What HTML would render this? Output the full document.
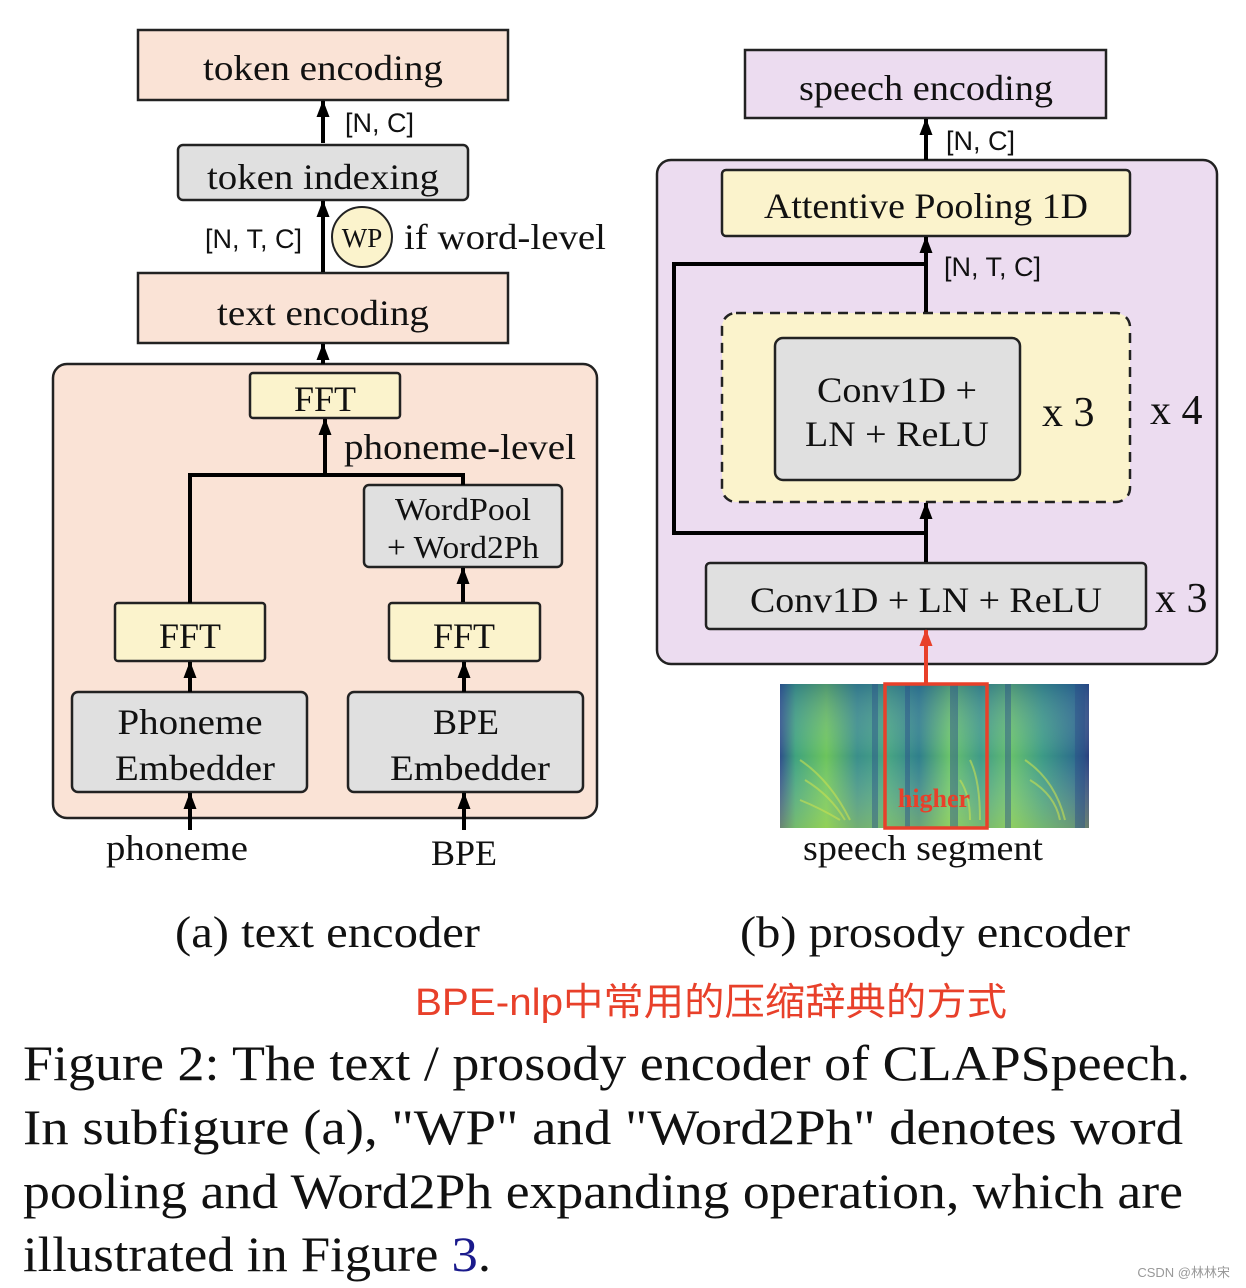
<!DOCTYPE html>
<html><head><meta charset="utf-8"><style>
html,body{margin:0;padding:0;background:#fff;}
svg{display:block;}
.s{font-family:"Liberation Serif",serif;fill:#111;}
.n{font-family:"Liberation Sans",sans-serif;fill:#111;}
</style></head><body>
<svg width="1246" height="1288" viewBox="0 0 1246 1288" xmlns="http://www.w3.org/2000/svg">
<defs>
<marker id="a" markerWidth="17" markerHeight="13" refX="16" refY="6.5" orient="auto" markerUnits="userSpaceOnUse" viewBox="0 0 17 13"><path d="M0,0 L17,6.5 L0,13 z" fill="#000"/></marker>
<marker id="r" markerWidth="17" markerHeight="13" refX="16" refY="6.5" orient="auto" markerUnits="userSpaceOnUse" viewBox="0 0 17 13"><path d="M0,0 L17,6.5 L0,13 z" fill="#e8402a"/></marker>
<linearGradient id="sp" x1="0" x2="1" y1="0" y2="0">
<stop offset="0" stop-color="#2e4f8a"/><stop offset="0.05" stop-color="#3fa37e"/><stop offset="0.15" stop-color="#6cc45c"/><stop offset="0.25" stop-color="#3a8f8a"/><stop offset="0.35" stop-color="#48a582"/><stop offset="0.45" stop-color="#2f7f8c"/><stop offset="0.55" stop-color="#6ac46a"/><stop offset="0.65" stop-color="#3f9a88"/><stop offset="0.75" stop-color="#66c06c"/><stop offset="0.85" stop-color="#3c9a86"/><stop offset="0.95" stop-color="#2d6f8c"/><stop offset="1" stop-color="#2b3f7e"/>
</linearGradient>
<linearGradient id="sv" x1="0" x2="0" y1="0" y2="1">
<stop offset="0" stop-color="#1f4f8a" stop-opacity="0.4"/><stop offset="0.5" stop-color="#fff" stop-opacity="0"/><stop offset="1" stop-color="#d8e84a" stop-opacity="0.35"/>
</linearGradient>
</defs>
<g stroke="#222" stroke-width="2.5">
<rect x="138" y="30" width="370" height="70" fill="#fae3d6"/>
<rect x="178" y="145" width="290" height="55" rx="5" fill="#e0e0e0"/>
<rect x="138" y="273" width="370" height="70" fill="#fae3d6"/>
<rect x="53" y="364" width="544" height="454" rx="14" fill="#fae3d6"/>
<rect x="250" y="373" width="150" height="45" rx="3" fill="#fbf3cc"/>
<rect x="364" y="485" width="198" height="82" rx="5" fill="#e0e0e0"/>
<rect x="115" y="603" width="150" height="58" rx="3" fill="#fbf3cc"/>
<rect x="389" y="603" width="151" height="58" rx="3" fill="#fbf3cc"/>
<rect x="72" y="692" width="235" height="100" rx="6" fill="#e0e0e0"/>
<rect x="348" y="692" width="235" height="100" rx="6" fill="#e0e0e0"/>
<circle cx="362" cy="237" r="30" fill="#fbf3cc" stroke-width="2"/>
<rect x="745" y="50" width="361" height="68" fill="#ecdcf0"/>
<rect x="657" y="160" width="560" height="504" rx="14" fill="#ecdcf0"/>
<rect x="722" y="170" width="408" height="66" rx="4" fill="#fbf3cc"/>
<rect x="722" y="313" width="408" height="189" rx="14" fill="#fbf3cc" stroke-dasharray="10,7"/>
<rect x="775" y="338" width="245" height="142" rx="8" fill="#e0e0e0"/>
<rect x="706" y="563" width="440" height="66" rx="4" fill="#e0e0e0"/>
</g>
<g stroke="#000" stroke-width="4" fill="none">
<line x1="323" y1="143" x2="323" y2="101" marker-end="url(#a)"/>
<line x1="323" y1="272" x2="323" y2="201" marker-end="url(#a)"/>
<line x1="323" y1="364" x2="323" y2="344" marker-end="url(#a)"/>
<line x1="325" y1="475" x2="325" y2="419" marker-end="url(#a)"/>
<polyline points="190,603 190,475 463,475 463,485"/>
<line x1="463" y1="602" x2="463" y2="568" marker-end="url(#a)"/>
<line x1="190" y1="692" x2="190" y2="662" marker-end="url(#a)"/>
<line x1="464" y1="692" x2="464" y2="662" marker-end="url(#a)"/>
<line x1="190" y1="830" x2="190" y2="793" marker-end="url(#a)"/>
<line x1="464" y1="830" x2="464" y2="793" marker-end="url(#a)"/>
<line x1="926" y1="160" x2="926" y2="119" marker-end="url(#a)"/>
<line x1="926" y1="312" x2="926" y2="237" marker-end="url(#a)"/>
<polyline points="926,533 674,533 674,264 926,264"/>
<line x1="926" y1="562" x2="926" y2="503" marker-end="url(#a)"/>
</g>
<line x1="926" y1="684" x2="926" y2="630" stroke="#e8402a" stroke-width="4" marker-end="url(#r)"/>
<rect x="780" y="684" width="309" height="144" fill="url(#sp)"/>
<rect x="780" y="684" width="309" height="144" fill="url(#sv)"/>
<g stroke="#c8e050" stroke-width="2" opacity="0.6" fill="none">
<path d="M800,760 q30,20 50,60 M805,780 q25,15 40,40 M800,800 q20,8 40,20"/>
<path d="M1025,760 q30,20 40,60 M1030,780 q25,15 30,40"/>
<path d="M970,760 q10,20 10,60 M960,780 q10,15 10,40"/>
</g>
<g fill="#2a4f8a" opacity="0.45">
<rect x="872" y="684" width="6" height="144"/><rect x="905" y="684" width="5" height="144"/><rect x="950" y="684" width="8" height="144"/><rect x="1005" y="684" width="6" height="144"/><rect x="1075" y="684" width="10" height="144"/>
</g>
<rect x="885" y="684" width="102" height="144" fill="none" stroke="#e8402a" stroke-width="3.5"/>
<text x="934" y="807" text-anchor="middle" font-family="Liberation Serif,serif" font-weight="bold" font-size="26" fill="#e8402a">higher</text>
<g class="s" font-size="36" text-anchor="middle">
<text x="323" y="80" textLength="240" lengthAdjust="spacingAndGlyphs">token encoding</text>
<text x="323" y="189" textLength="232" lengthAdjust="spacingAndGlyphs">token indexing</text>
<text x="323" y="325" textLength="212" lengthAdjust="spacingAndGlyphs">text encoding</text>
<text x="325" y="411">FFT</text>
<text x="190" y="648">FFT</text>
<text x="464" y="648">FFT</text>
<text x="190" y="734" textLength="145" lengthAdjust="spacingAndGlyphs">Phoneme</text>
<text x="195" y="780" textLength="160" lengthAdjust="spacingAndGlyphs">Embedder</text>
<text x="466" y="734">BPE</text>
<text x="470" y="780" textLength="160" lengthAdjust="spacingAndGlyphs">Embedder</text>
<text x="926" y="100" textLength="254" lengthAdjust="spacingAndGlyphs">speech encoding</text>
<text x="926" y="218" textLength="324" lengthAdjust="spacingAndGlyphs">Attentive Pooling 1D</text>
<text x="897" y="402" textLength="160" lengthAdjust="spacingAndGlyphs">Conv1D +</text>
<text x="897" y="446" textLength="184" lengthAdjust="spacingAndGlyphs">LN + ReLU</text>
<text x="926" y="612" textLength="352" lengthAdjust="spacingAndGlyphs">Conv1D + LN + ReLU</text>
<text x="177" y="860" textLength="142" lengthAdjust="spacingAndGlyphs">phoneme</text>
<text x="464" y="865">BPE</text>
<text x="923" y="860" textLength="240" lengthAdjust="spacingAndGlyphs">speech segment</text>
</g>
<g class="s" font-size="32" text-anchor="middle">
<text x="463" y="520" textLength="136" lengthAdjust="spacingAndGlyphs">WordPool</text>
<text x="463" y="558" textLength="152" lengthAdjust="spacingAndGlyphs">+ Word2Ph</text>
</g>
<text class="s" x="362" y="247" font-size="27" text-anchor="middle">WP</text>
<text class="s" x="404" y="249" font-size="36" textLength="202" lengthAdjust="spacingAndGlyphs">if word-level</text>
<text class="s" x="344" y="459" font-size="36" textLength="232" lengthAdjust="spacingAndGlyphs">phoneme-level</text>
<g class="s" font-size="42">
<text x="1042" y="426">x 3</text>
<text x="1150" y="424">x 4</text>
<text x="1155" y="612">x 3</text>
</g>
<g class="n" font-size="27">
<text x="345" y="132">[N, C]</text>
<text x="205" y="248">[N, T, C]</text>
<text x="946" y="150">[N, C]</text>
<text x="944" y="276">[N, T, C]</text>
</g>
<g class="s" font-size="44">
<text x="175" y="947" textLength="305" lengthAdjust="spacingAndGlyphs">(a)  text encoder</text>
<text x="740" y="947" textLength="390" lengthAdjust="spacingAndGlyphs">(b)  prosody encoder</text>
</g>
<text x="415" y="1015" textLength="592" lengthAdjust="spacingAndGlyphs" font-family="Liberation Sans,'Noto Sans CJK SC',sans-serif" font-size="38" fill="#e8402a">BPE-nlp中常用的压缩辞典的方式</text>
<g class="s" font-size="50">
<text x="23" y="1080" textLength="1167" lengthAdjust="spacingAndGlyphs">Figure 2:  The text / prosody encoder of CLAPSpeech.</text>
<text x="23" y="1144" textLength="1160" lengthAdjust="spacingAndGlyphs">In subfigure (a), "WP" and "Word2Ph" denotes word</text>
<text x="23" y="1208" textLength="1160" lengthAdjust="spacingAndGlyphs">pooling and Word2Ph expanding operation, which are</text>
<text x="23" y="1271" textLength="468" lengthAdjust="spacingAndGlyphs">illustrated in Figure <tspan fill="#1a1a8c">3</tspan>.</text>
</g>
<text x="1230" y="1277" text-anchor="end" font-family="Liberation Sans,'Noto Sans CJK SC',sans-serif" font-size="13" fill="#999">CSDN @林林宋</text>
</svg>
</body></html>
